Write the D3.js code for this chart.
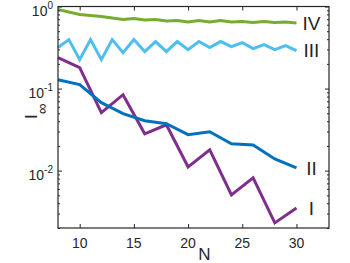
<!DOCTYPE html>
<html>
<head>
<meta charset="utf-8">
<script src="https://cdn.jsdelivr.net/npm/d3@7/dist/d3.min.js"></script>
<style>
  body { margin: 0; background: #fff; }
  text { font-family: "Liberation Sans", Arial, Helvetica, sans-serif; fill: #262626; }
</style>
</head>
<body>
<div id="chart"></div>
<script>
// N values (even steps for I and II, every integer for III and IV)
const nEven = [8, 10, 12, 14, 16, 18, 20, 22, 24, 26, 28, 30];
const nAll = [8, 9, 10, 11, 12, 13, 14, 15, 16, 17, 18, 19, 20, 21, 22, 23, 24, 25, 26, 27, 28, 29, 30];

const seriesI = [0.238, 0.180, 0.0508, 0.0842, 0.0281, 0.0362, 0.0111, 0.0179, 0.00507, 0.00817, 0.00231, 0.00351];
const seriesII = [0.128, 0.112, 0.0673, 0.0494, 0.0406, 0.0373, 0.0274, 0.0298, 0.0212, 0.0206, 0.0139, 0.0108];
const seriesIII = [0.316, 0.395, 0.225, 0.395, 0.225, 0.395, 0.274, 0.395, 0.282, 0.374, 0.282, 0.374,
  0.298, 0.374, 0.316, 0.374, 0.325, 0.363, 0.307, 0.344, 0.298, 0.334, 0.290];
const seriesIV = [0.919, 0.857, 0.798, 0.776, 0.755, 0.724, 0.694, 0.714, 0.684, 0.694, 0.665, 0.677,
  0.647, 0.675, 0.647, 0.675, 0.647, 0.656, 0.638, 0.656, 0.638, 0.647, 0.629];

const seriesNames = ["I", "II", "III", "IV"];
const xTicks = [10, 15, 20, 25, 30];
const yMajor = [1e-2, 1e-1, 1];
const yExp = [-2, -1, 0];

const width = 350, height = 263;
const margins = { top: 6.5, bottom: 35, left: 58, right: 21 };

const svg = d3.select("#chart").append("svg")
  .attr("width", width).attr("height", height);

const xScale = d3.scaleLinear().domain([8, 33])
  .range([margins.left, width - margins.right]);
const yScale = d3.scaleLog().domain([0.002, 1])
  .range([height - margins.bottom, margins.top]);

const series = [
  { name: "I", n: nEven, v: seriesI, color: "#7E2F8E" },
  { name: "II", n: nEven, v: seriesII, color: "#0072BD" },
  { name: "III", n: nAll, v: seriesIII, color: "#4DBEEE" },
  { name: "IV", n: nAll, v: seriesIV, color: "#77AC30" },
];

// lines
const line = d3.line().x(d => xScale(d[0])).y(d => yScale(d[1]));
svg.selectAll(".series")
  .data(series)
  .join("path")
  .attr("class", "series")
  .attr("fill", "none")
  .attr("stroke", d => d.color)
  .attr("stroke-width", 3)
  .attr("stroke-linejoin", "miter")
  .attr("d", d => line(d.n.map((n, i) => [n, d.v[i]])));

// axes (ticks inward, MATLAB-ish box)
const x0 = margins.left, x1 = width - margins.right;
const y0 = height - margins.bottom, y1 = margins.top;
const minor = yScale.ticks().filter(t => !yMajor.some(m => Math.abs(m - t) < 1e-9));

const axisColor = "#262626";
function styleAxis(g) {
  g.select(".domain").remove();
  g.selectAll("line").attr("stroke", axisColor);
}

svg.append("g").attr("transform", `translate(0,${y0})`)
  .call(d3.axisBottom(xScale).tickValues(xTicks).tickSize(-4).tickFormat(""))
  .call(styleAxis);
svg.append("g").attr("transform", `translate(0,${y1})`)
  .call(d3.axisTop(xScale).tickValues(xTicks).tickSize(-4).tickFormat(""))
  .call(styleAxis);
svg.append("g").attr("transform", `translate(${x0},0)`)
  .call(d3.axisLeft(yScale).tickValues(yMajor).tickSize(-4).tickFormat(""))
  .call(styleAxis);
svg.append("g").attr("transform", `translate(${x0},0)`)
  .call(d3.axisLeft(yScale).tickValues(minor).tickSize(-2).tickFormat(""))
  .call(styleAxis);
svg.append("g").attr("transform", `translate(${x1},0)`)
  .call(d3.axisRight(yScale).tickValues(yMajor).tickSize(-4).tickFormat(""))
  .call(styleAxis);
svg.append("g").attr("transform", `translate(${x1},0)`)
  .call(d3.axisRight(yScale).tickValues(minor).tickSize(-2).tickFormat(""))
  .call(styleAxis);

svg.append("rect")
  .attr("x", x0).attr("y", y1)
  .attr("width", x1 - x0).attr("height", y0 - y1)
  .attr("fill", "none").attr("stroke", axisColor).attr("stroke-width", 1.2);

// tick labels
svg.selectAll(".xlab")
  .data(xTicks)
  .join("text")
  .attr("class", "xlab")
  .attr("x", d => xScale(d))
  .attr("y", y0 + 20)
  .attr("text-anchor", "middle")
  .attr("font-size", 14)
  .text(d => d);

const ylab = svg.selectAll(".ylab")
  .data(yMajor)
  .join("text")
  .attr("class", "ylab")
  .attr("x", x0 - 5)
  .attr("y", d => yScale(d) + 9)
  .attr("text-anchor", "end")
  .attr("font-size", 14);
ylab.append("tspan").text("10");
ylab.append("tspan").attr("font-size", 10).attr("dy", -7).text((d, i) => yExp[i]);

// axis titles
svg.append("text")
  .attr("x", xScale(30) - 92)
  .attr("y", height - 3)
  .attr("text-anchor", "middle")
  .attr("font-size", 17)
  .text("N");

const yTitle = svg.append("text")
  .attr("transform", `translate(37,${yScale(0.0427)}) rotate(-90)`)
  .attr("font-size", 17);
yTitle.append("tspan").text("I");
yTitle.append("tspan").attr("font-size", 15).attr("dy", 10).text("\u221E");

// series labels at the line ends
svg.selectAll(".slab")
  .data(series)
  .join("text")
  .attr("class", "slab")
  .attr("x", xScale(30) + 15)
  .attr("y", d => yScale(d.v[d.v.length - 1]))
  .attr("dy", "0.36em")
  .attr("text-anchor", "middle")
  .attr("font-size", 19)
  .text(d => d.name);
</script>
</body>
</html>
